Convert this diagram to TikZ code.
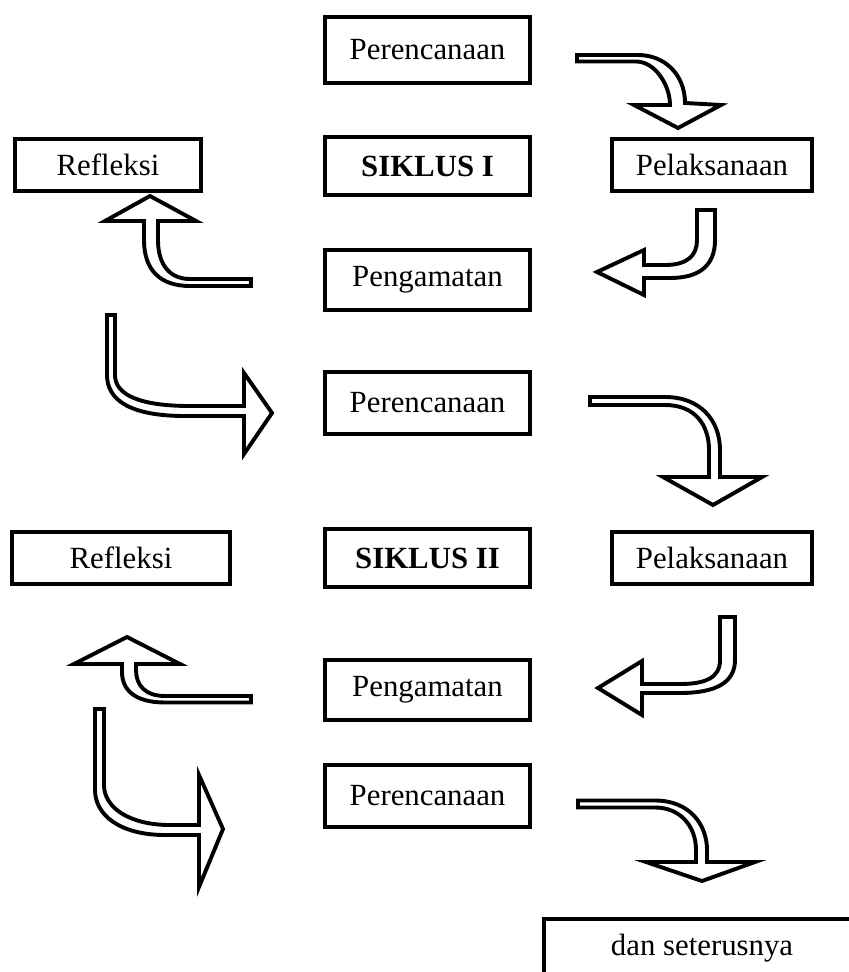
\documentclass[tikz,border=0pt]{standalone}
\usepackage{fontspec}
\setmainfont{Liberation Serif}
\begin{document}
\begin{tikzpicture}[x=0.5pt,y=-0.5pt,
  box/.style={draw, line width=2.1pt, minimum width=102.5pt, inner sep=0pt,
    font=\fontsize{15.4}{18}\selectfont},
  barrow/.style={draw, fill=white, line width=1.95pt, line join=miter}]
\useasboundingbox (0,0) rectangle (848,972);

% arrows (block shapes)
% Perencanaan I -> Pelaksanaan I
\draw[barrow] (577,55) -- (638,55) .. controls (665,55) and (685,75) .. (685,103)
  -- (721,105) -- (678,128) -- (634,105) -- (670,105)
  .. controls (670,85) and (655,61.5) .. (636,61.5) -- (577,61.5) -- cycle;
% Pelaksanaan I -> Pengamatan I
\draw[barrow] (697,210) -- (715,210) -- (715,240) .. controls (715,265) and (700,278) .. (670,278)
  -- (644,278) -- (644,295) -- (597,272) -- (644,250) -- (644,265) -- (665,265)
  .. controls (688,265) and (697,255) .. (697,240) -- cycle;
% Pengamatan I -> Refleksi I
\draw[barrow] (251,279) -- (190,279) .. controls (170,279) and (158,265) .. (158,240)
  -- (158,221) -- (196,221) -- (150,196) -- (105,221) -- (144,221) -- (144,240)
  .. controls (144,270) and (160,286) .. (190,286) -- (251,286) -- cycle;
% Refleksi I -> Perencanaan II
\draw[barrow] (107,315) -- (115,315) -- (115,375) .. controls (115,395) and (140,406) .. (190,406)
  -- (244,406) -- (244,373) -- (272,413) -- (244,454) -- (244,416) -- (185,416)
  .. controls (130,416) and (107,400) .. (107,375) -- cycle;
% Perencanaan II -> Pelaksanaan II
\draw[barrow] (590,397) -- (665,397) .. controls (700,397) and (720,420) .. (720,450)
  -- (720,477) -- (762,477) -- (713,505) -- (663,477) -- (709,477) -- (709,450)
  .. controls (709,425) and (695,405) .. (665,405) -- (590,405) -- cycle;
% Pelaksanaan II -> Pengamatan II
\draw[barrow] (720,617) -- (735,617) -- (735,660) .. controls (735,683) and (715,693) .. (680,693)
  -- (642,693) -- (642,715) -- (598,688) -- (642,661) -- (642,684) -- (680,684)
  .. controls (705,684) and (720,678) .. (720,660) -- cycle;
% Pengamatan II -> Refleksi II
\draw[barrow] (251,696) -- (165,696) .. controls (145,696) and (136,685) .. (136,670)
  -- (136,664) -- (180,664) -- (127,637) -- (74,664) -- (122,664) -- (122,672)
  .. controls (122,690) and (135,702.5) .. (165,702.5) -- (251,702.5) -- cycle;
% Refleksi II -> Perencanaan III
\draw[barrow] (95,709) -- (104,709) -- (104,785) .. controls (104,808) and (130,825) .. (170,825)
  -- (199,825) -- (199,775) -- (223,829) -- (199,887) -- (199,835) -- (165,835)
  .. controls (120,835) and (95,815) .. (95,790) -- cycle;
% Perencanaan III -> dan seterusnya
\draw[barrow] (578,800.5) -- (655,800.5) .. controls (690,800.5) and (707,825) .. (707,850)
  -- (707,862) -- (755,862) -- (702,881) -- (646,862) -- (696,862) -- (696,850)
  .. controls (696,826) and (680,807.5) .. (655,807.5) -- (578,807.5) -- cycle;

% boxes
\node[box, minimum height=33pt] (per1) at (427.5,50) {Perencanaan};
\node[box, minimum width=93pt, minimum height=26pt] (ref1) at (108,165) {Refleksi};
\node[box, minimum height=29pt] (sik1) at (427.5,166) {\bfseries SIKLUS I};
\node[box, minimum width=100pt, minimum height=26pt] (pel1) at (712,165) {Pelaksanaan};
\node[box, minimum height=30pt] (pen1) at (427.5,280) {Pengamatan};
\node[box, minimum height=31pt] (per2) at (427.5,403) {Perencanaan};
\node[box, minimum width=109pt, minimum height=26pt] (ref2) at (121,558) {Refleksi};
\node[box, minimum height=29pt] (sik2) at (427.5,558) {\bfseries SIKLUS II};
\node[box, minimum width=100pt, minimum height=26pt] (pel2) at (712,558) {Pelaksanaan};
\node[box, minimum height=30pt] (pen2) at (427.5,690) {Pengamatan};
\node[box, minimum height=31pt] (per3) at (427.5,796) {Perencanaan};
\node[box, minimum width=158pt, minimum height=29pt] (dan) at (702,948) {dan seterusnya};
\end{tikzpicture}
\end{document}
